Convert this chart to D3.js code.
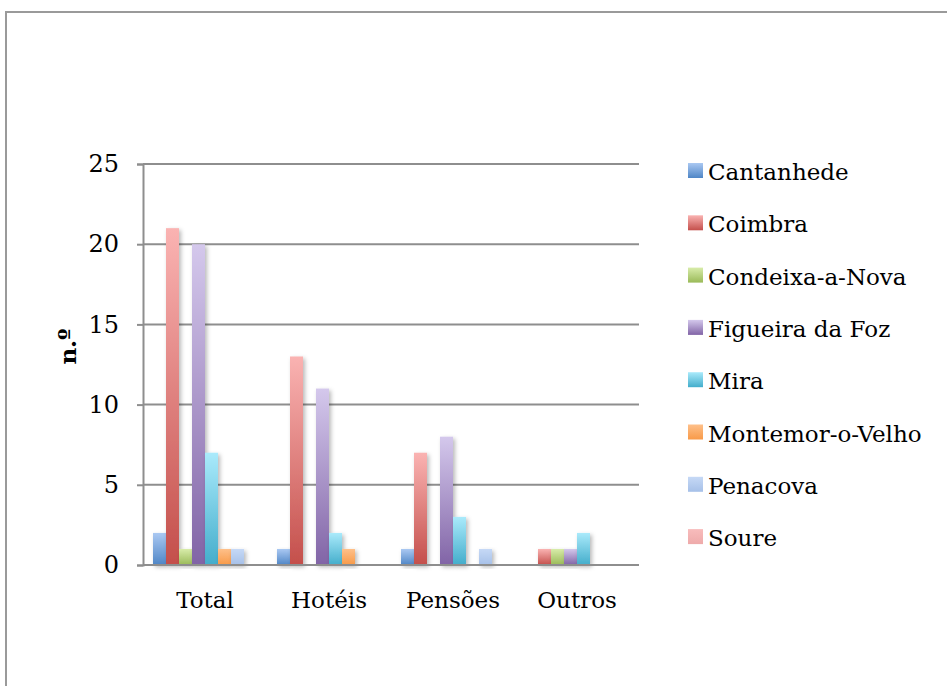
<!DOCTYPE html>
<html>
<head>
<meta charset="utf-8">
<script src="https://cdn.jsdelivr.net/npm/d3@7"></script>
<style>
  html, body { margin: 0; padding: 0; background: #fff; }
  svg { display: block; }
  text { font-family: "DejaVu Serif", "Liberation Serif", serif; fill: #000; }
</style>
</head>
<body>
<svg id="chart" width="947" height="686"></svg>
<script>
// Establishments by type and municipality
const categories = ["Total", "Hotéis", "Pensões", "Outros"];
const municipalities = ["Cantanhede", "Coimbra", "Condeixa-a-Nova", "Figueira da Foz",
                        "Mira", "Montemor-o-Velho", "Penacova", "Soure"];
const cantanhede = [2, 1, 1, 0];
const coimbra    = [21, 13, 7, 1];
const condeixa   = [1, 0, 0, 1];
const figueira   = [20, 11, 8, 1];
const mira       = [7, 2, 3, 2];
const montemor   = [1, 1, 0, 0];
const penacova   = [1, 0, 1, 0];
const soure      = [0, 0, 0, 0];
const seriesValues = [cantanhede, coimbra, condeixa, figueira, mira, montemor, penacova, soure];
const yTicks = [0, 5, 10, 15, 20, 25];
const yLabel = "n.º";

// gradient stops (top, bottom) per series
const palette = [
  ["#aac8f2", "#4f86c6"],
  ["#fab3b2", "#c44f4b"],
  ["#d8ecaa", "#9aba58"],
  ["#d4c8ec", "#8164a6"],
  ["#aaeafb", "#43adcb"],
  ["#fec08a", "#f89a48"],
  ["#c6d9f6", "#a6c0e8"],
  ["#f8bcbc", "#eeaaaa"]
];

const FONT = 23;

const svg = d3.select("#chart");
const defs = svg.append("defs");

palette.forEach((c, i) => {
  const g = defs.append("linearGradient")
    .attr("id", "grad" + i).attr("x1", 0).attr("y1", 0).attr("x2", 0).attr("y2", 1);
  g.append("stop").attr("offset", "0%").attr("stop-color", c[0]);
  g.append("stop").attr("offset", "100%").attr("stop-color", c[1]);
});

const shadow = defs.append("filter").attr("id", "shadow")
  .attr("x", "-50%").attr("y", "-10%").attr("width", "200%").attr("height", "130%");
shadow.append("feDropShadow").attr("dx", 2).attr("dy", 2)
  .attr("stdDeviation", 2.2).attr("flood-color", "#000").attr("flood-opacity", 0.28);

// outer frame
svg.append("path")
  .attr("d", "M6,700 L6,12 L960,12")
  .attr("fill", "none").attr("stroke", "#9a9a9a").attr("stroke-width", 2);

const plot = { left: 143, right: 639, top: 164, bottom: 565 };

const y = d3.scaleLinear().domain([0, 25]).range([plot.bottom, plot.top]);
const x0 = d3.scaleBand().domain(categories).range([plot.left, plot.right]).padding(0);
const x1 = d3.scaleBand().domain(municipalities)
  .range([10, x0.bandwidth() - 10]).padding(0);

// horizontal gridlines
svg.append("g").selectAll("line").data(yTicks).join("line")
  .attr("x1", plot.left).attr("x2", plot.right)
  .attr("y1", d => y(d)).attr("y2", d => y(d))
  .attr("stroke", "#8e8e8e").attr("stroke-width", 2);

// y axis
const yAxis = d3.axisLeft(y).tickValues(yTicks).tickSize(6).tickPadding(18);
const gy = svg.append("g").attr("transform", `translate(${plot.left},0)`).call(yAxis);
gy.select(".domain").attr("stroke", "#8e8e8e").attr("stroke-width", 2);
gy.selectAll(".tick line").attr("stroke", "#8e8e8e").attr("stroke-width", 2);
gy.selectAll(".tick text").attr("font-size", 24).attr("fill", "#000")
  .attr("font-family", "DejaVu Serif");

// bars
const groups = svg.append("g").selectAll("g").data(categories).join("g")
  .attr("transform", d => `translate(${x0(d)},0)`);
groups.selectAll("rect")
  .data((c, ci) => municipalities.map((m, si) => ({ m, si, v: seriesValues[si][ci] })))
  .join("rect")
  .filter(d => d.v > 0)
  .attr("x", d => x1(d.m))
  .attr("width", x1.bandwidth())
  .attr("y", d => y(d.v))
  .attr("height", d => y(0) - y(d.v))
  .attr("fill", d => `url(#grad${d.si})`)
  .attr("filter", "url(#shadow)");

// x axis line (drawn over the bars' bottom)
svg.append("line")
  .attr("x1", plot.left).attr("x2", plot.right)
  .attr("y1", y(0)).attr("y2", y(0))
  .attr("stroke", "#8e8e8e").attr("stroke-width", 2);

// category labels
svg.append("g").selectAll("text").data(categories).join("text")
  .attr("x", d => x0(d) + x0.bandwidth() / 2)
  .attr("y", plot.bottom + 43)
  .attr("text-anchor", "middle")
  .attr("font-size", FONT)
  .text(d => d);

// y axis title
svg.append("text")
  .attr("transform", `translate(76,${(plot.top + plot.bottom) / 2 - 18}) rotate(-90)`)
  .attr("text-anchor", "middle")
  .attr("font-size", FONT).attr("font-weight", "bold")
  .text(yLabel);

// legend
const legend = svg.append("g").attr("transform", "translate(688,172)");
const li = legend.selectAll("g").data(municipalities).join("g")
  .attr("transform", (d, i) => `translate(0,${i * 52.3})`);
li.append("rect").attr("x", 0).attr("y", -9).attr("width", 15).attr("height", 15)
  .attr("fill", (d, i) => `url(#grad${i})`);
li.append("text").attr("x", 20).attr("y", 8).attr("font-size", FONT).text(d => d);
</script>
</body>
</html>
